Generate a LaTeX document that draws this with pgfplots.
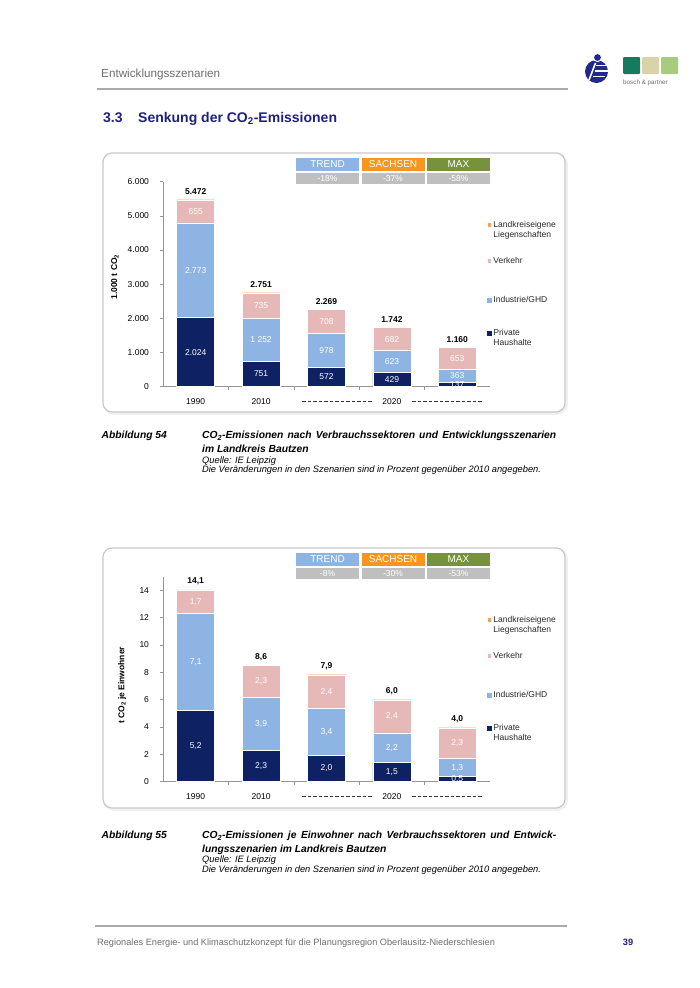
\documentclass[border=0pt]{standalone}
\usepackage{pgfplots}
\pgfplotsset{compat=1.18}
\usepackage{fontspec}
\setmainfont{Liberation Sans}

\definecolor{phc}{RGB}{14,33,99}
\definecolor{indc}{RGB}{141,180,226}
\definecolor{verkc}{RGB}{230,185,184}
\definecolor{lkc}{RGB}{247,160,90}
\definecolor{trendc}{RGB}{141,180,226}
\definecolor{sachsenc}{RGB}{247,150,30}
\definecolor{maxc}{RGB}{118,146,60}
\definecolor{pctgray}{RGB}{191,191,191}
\definecolor{titleblue}{RGB}{32,32,128}
\definecolor{headgray}{RGB}{110,110,110}
\definecolor{linegray}{RGB}{170,170,170}
\definecolor{framegray}{RGB}{200,200,200}
\definecolor{axisgray}{RGB}{150,150,150}
\definecolor{legtext}{RGB}{40,40,40}
\definecolor{logoblue}{RGB}{35,40,140}
\definecolor{bpa}{RGB}{22,122,94}
\definecolor{bpb}{RGB}{217,211,170}
\definecolor{bpc}{RGB}{168,204,126}

\newcommand\fs[1]{\fontsize{#1}{#1}\selectfont}

% scenario header boxes above each chart: #1 top y, #2-#4 changes
\newcommand\scen[4]{%
  \foreach \xa/\xb/\c/\t/\p in {296/359/trendc/TREND/#2, 361.5/424.5/sachsenc/SACHSEN/#3, 427/490/maxc/MAX/#4}{
    \fill[\c] (\xa,-#1) rectangle (\xb,-#1-13);
    \node[text=white, inner sep=0, font=\fs{10}] at ({(\xa+\xb)/2},-#1-6.5) {\t};
    \fill[pctgray] (\xa,-#1-15) rectangle (\xb,-#1-26);
    \node[text=white, inner sep=0, font=\fs{8.5}] at ({(\xa+\xb)/2},-#1-20.5) {\p};
  }}

\pgfplotsset{
  barframe/.style={
    scale only axis, width=327pt, height=205pt, anchor=south west,
    xmin=-0.5, xmax=4.5, ymin=0, enlargelimits=false,
  },
  stackaxis/.style={
    barframe, ybar stacked, bar width=38pt,
    axis x line*=bottom, axis y line*=left,
    axis line style={draw=axisgray, line width=0.6pt},
    tick style={draw=axisgray, line width=0.6pt},
    tick align=outside, major tick length=3.5pt,
    xtick={0.5,1.5,2.5,3.5}, xticklabels={},
    extra x ticks={0,1,3}, extra x tick labels={1990,2010,2020},
    extra x tick style={tick style={draw=none}, tick label style={yshift=-5pt}},
    tick label style={font=\fs{8.5}, text=black},
    y tick label style={xshift=-7pt},
    scaled y ticks=false,
    ylabel style={anchor=center, font=\bfseries\fs{8.5}},
    legend style={draw=none, fill=none, inner sep=0pt, anchor=north west,
      font=\fontsize{8.5}{10}\selectfont, text=legtext, row sep=21pt,
      cells={align=left}},
    legend cell align=left,
    reverse legend,
  },
  seg/.style={fill=#1, draw=white, line width=0.6pt,
    legend image code/.code={\fill[#1] (0pt,-1.8pt) rectangle (3.6pt,1.8pt);}},
  segup/.style={fill=#1, draw=white, line width=0.6pt,
    legend image code/.code={\fill[#1] (0pt,3.2pt) rectangle (3.6pt,6.8pt);}},
  segraise/.style={fill=#1, draw=white, line width=0.6pt,
    legend image code/.code={%
      \path[use as bounding box, draw=none, fill=none] (0pt,-1.8pt) rectangle (3.6pt,1.8pt);
      \fill[#1, draw=none] (0pt,5.2pt) rectangle (3.6pt,8.8pt);}},
  labelaxis/.style={barframe, hide axis, clip=false},
  seglabels/.style={only marks, mark=none, nodes near coords,
    point meta=explicit symbolic, nodes near coords align=center,
    nodes near coords style={text=white, font=\fs{8.5}, inner sep=0pt}},
  totlabels/.style={only marks, mark=none, nodes near coords,
    point meta=explicit symbolic, nodes near coords align=south,
    nodes near coords style={text=black, font=\bfseries\fs{8.5}, inner sep=1pt, yshift=3.5pt}},
  /pgf/number format/.cd, use comma, 1000 sep={.}, assume math mode=true,
}

\begin{document}
\begin{tikzpicture}[x=1pt,y=1pt]
\fill[white] (0,0) rectangle (700,-988);
\useasboundingbox (0,0) rectangle (700,-988);

% page header
\node[anchor=base west, inner sep=0, text=headgray, font=\fs{11.7}] at (101,-77) {Entwicklungsszenarien};
\draw[linegray, line width=1.3pt] (97,-89) -- (568,-89);
\fill[logoblue] (596.5,-71.5) circle (11.5);
\fill[white] (597.5,-57.5) circle (4.6);
\fill[logoblue] (597.5,-57.5) circle (3.4);
\draw[white, line width=1.6pt] (589,-80) -- (595.5,-63);
\draw[white, line width=1.4pt] (596,-65.5) -- (606,-65.5);
\draw[white, line width=1.4pt] (594.5,-71) -- (607.5,-71);
\draw[white, line width=1.4pt] (593,-76.5) -- (605,-76.5);
\fill[bpa, rounded corners=1pt] (623,-57) rectangle (640,-74);
\fill[bpb, rounded corners=1pt] (642,-57) rectangle (659,-74);
\fill[bpc, rounded corners=1pt] (661,-57) rectangle (678,-74);
\node[anchor=base west, inner sep=0, text=headgray, font=\fs{6.3}] at (623,-84.5) {bosch \& partner};

\node[anchor=base west, inner sep=0, text=titleblue, font=\bfseries\fs{14}] at (103,-122) {3.3};
\node[anchor=base west, inner sep=0, text=titleblue, font=\bfseries\fs{14}] at (138,-122) {Senkung der CO\textsubscript{2}-Emissionen};

% ---------- chart 1 ----------
\draw[gray!12, line width=2.5pt, rounded corners=9pt] (104.5,-154.5) rectangle (566.5,-413.5);
\draw[framegray, line width=1.2pt, rounded corners=9pt, fill=white] (103,-153) rectangle (565,-412);
\scen{158}{-18\%}{-37\%}{-58\%}

\begin{axis}[stackaxis, at={(163pt,-386.7pt)}, ymax=6000, ytick={0,1000,...,6000},
  ylabel={1.000 t CO\textsubscript{2}},
  ylabel style={at={(axis description cs:-0.147,0.535)}},
  legend style={at={(0.991,0.818)}}]
\addplot[segup=phc] coordinates {(0,2024) (1,751) (2,572) (3,429) (4,137)};
\addlegendentry{Private\\Haushalte}
\addplot[seg=indc] coordinates {(0,2773) (1,1252) (2,978) (3,623) (4,363)};
\addlegendentry{Industrie/GHD}
\addplot[segraise=verkc] coordinates {(0,655) (1,735) (2,708) (3,682) (4,653)};
\addlegendentry{\raisebox{7pt}[6.2pt][0pt]{Verkehr}}
\addplot[segup=lkc, draw=none] coordinates {(0,20) (1,13) (2,11) (3,8) (4,7)};
\addlegendentry{Landkreiseigene\\Liegenschaften}
\end{axis}

\begin{axis}[labelaxis, at={(163pt,-386.7pt)}, ymax=6000]
\addplot[seglabels] coordinates {(0,1012)[2.024] (1,375.5)[751] (2,286)[572] (3,214.5)[429] (4,68.5)[137]};
\addplot[seglabels] coordinates {(0,3410.5)[2.773] (1,1377)[1 252] (2,1061)[978] (3,740.5)[623] (4,318.5)[363]};
\addplot[seglabels] coordinates {(0,5124.5)[655] (1,2370.5)[735] (2,1904)[708] (3,1393)[682] (4,826.5)[653]};
\addplot[totlabels] coordinates {(0,5472)[5.472] (1,2751)[2.751] (2,2269)[2.269] (3,1742)[1.742] (4,1160)[1.160]};
\end{axis}

\draw[black!80, line width=0.6pt, dash pattern=on 3.5pt off 2pt] (302,-401) -- (373,-401);
\draw[black!80, line width=0.6pt, dash pattern=on 3.5pt off 2pt] (412,-401) -- (482,-401);

\node[anchor=base west, inner sep=0, font=\bfseries\itshape\fs{10.3}] at (101.5,-438.7) {Abbildung 54};
\node[anchor=base west, inner sep=0, font=\bfseries\itshape\fs{10.3}] at (202,-438.7)
  {\makebox[354pt][s]{CO\textsubscript{2}-Emissionen nach Verbrauchssektoren und Entwicklungsszenarien}};
\node[anchor=base west, inner sep=0, font=\bfseries\itshape\fs{10.3}] at (202,-452.5) {im Landkreis Bautzen};
\node[anchor=base west, inner sep=0, font=\itshape\fs{9.3}] at (202,-463.2) {Quelle: IE Leipzig};
\node[anchor=base west, inner sep=0, font=\itshape\fs{9.3}] at (202,-472.8) {Die Veränderungen in den Szenarien sind in Prozent gegenüber 2010 angegeben.};

% ---------- chart 2 ----------
\draw[gray!12, line width=2.5pt, rounded corners=9pt] (104.5,-549.5) rectangle (566.5,-809.5);
\draw[framegray, line width=1.2pt, rounded corners=9pt, fill=white] (103,-548) rectangle (565,-808);
\scen{553}{-8\%}{-30\%}{-53\%}

\begin{axis}[stackaxis, at={(163pt,-781.7pt)}, ymax=15, ytick={0,2,...,14},
  ylabel={t CO\textsubscript{2} je Einwohner},
  ylabel style={at={(axis description cs:-0.125,0.47)}},
  legend style={at={(0.991,0.818)}}]
\addplot[segup=phc] coordinates {(0,5.22) (1,2.31) (2,1.94) (3,1.41) (4,0.36)};
\addlegendentry{Private\\Haushalte}
\addplot[seg=indc] coordinates {(0,7.08) (1,3.88) (2,3.40) (3,2.16) (4,1.34)};
\addlegendentry{Industrie/GHD}
\addplot[segraise=verkc] coordinates {(0,1.70) (1,2.30) (2,2.47) (3,2.40) (4,2.23)};
\addlegendentry{\raisebox{7pt}[6.2pt][0pt]{Verkehr}}
\addplot[segup=lkc, draw=none] coordinates {(0,0.03) (1,0.03) (2,0.03) (3,0.03) (4,0.03)};
\addlegendentry{Landkreiseigene\\Liegenschaften}
\end{axis}

\begin{axis}[labelaxis, at={(163pt,-781.7pt)}, ymax=15]
\addplot[seglabels] coordinates {(0,2.61)[5,2] (1,1.155)[2,3] (2,0.97)[2,0] (3,0.705)[1,5] (4,0.18)[0,5]};
\addplot[seglabels] coordinates {(0,8.76)[7,1] (1,4.25)[3,9] (2,3.64)[3,4] (3,2.49)[2,2] (4,1.03)[1,3]};
\addplot[seglabels] coordinates {(0,13.15)[1,7] (1,7.34)[2,3] (2,6.575)[2,4] (3,4.77)[2,4] (4,2.815)[2,3]};
\addplot[totlabels] coordinates {(0,14.03)[14,1] (1,8.52)[8,6] (2,7.84)[7,9] (3,6.00)[6,0] (4,3.96)[4,0]};
\end{axis}

\draw[black!80, line width=0.6pt, dash pattern=on 3.5pt off 2pt] (302,-796) -- (373,-796);
\draw[black!80, line width=0.6pt, dash pattern=on 3.5pt off 2pt] (412,-796) -- (482,-796);

\node[anchor=base west, inner sep=0, font=\bfseries\itshape\fs{10.3}] at (101.5,-838.7) {Abbildung 55};
\node[anchor=base west, inner sep=0, font=\bfseries\itshape\fs{10.3}] at (202,-838.7)
  {\makebox[354pt][s]{CO\textsubscript{2}-Emissionen je Einwohner nach Verbrauchssektoren und Entwick-}};
\node[anchor=base west, inner sep=0, font=\bfseries\itshape\fs{10.3}] at (202,-852) {lungsszenarien im Landkreis Bautzen};
\node[anchor=base west, inner sep=0, font=\itshape\fs{9.3}] at (202,-862.3) {Quelle: IE Leipzig};
\node[anchor=base west, inner sep=0, font=\itshape\fs{9.3}] at (202,-872.6) {Die Veränderungen in den Szenarien sind in Prozent gegenüber 2010 angegeben.};

% page footer
\draw[linegray, line width=1.3pt] (95,-926) -- (567,-926);
\node[anchor=base west, inner sep=0, text=headgray, font=\fs{9.2}] at (97,-945.5) {Regionales Energie- und Klimaschutzkonzept für die Planungsregion Oberlausitz-Niederschlesien};
\node[anchor=base, inner sep=0, text=titleblue, font=\bfseries\fs{9.2}] at (628,-945.5) {39};
\end{tikzpicture}
\end{document}
